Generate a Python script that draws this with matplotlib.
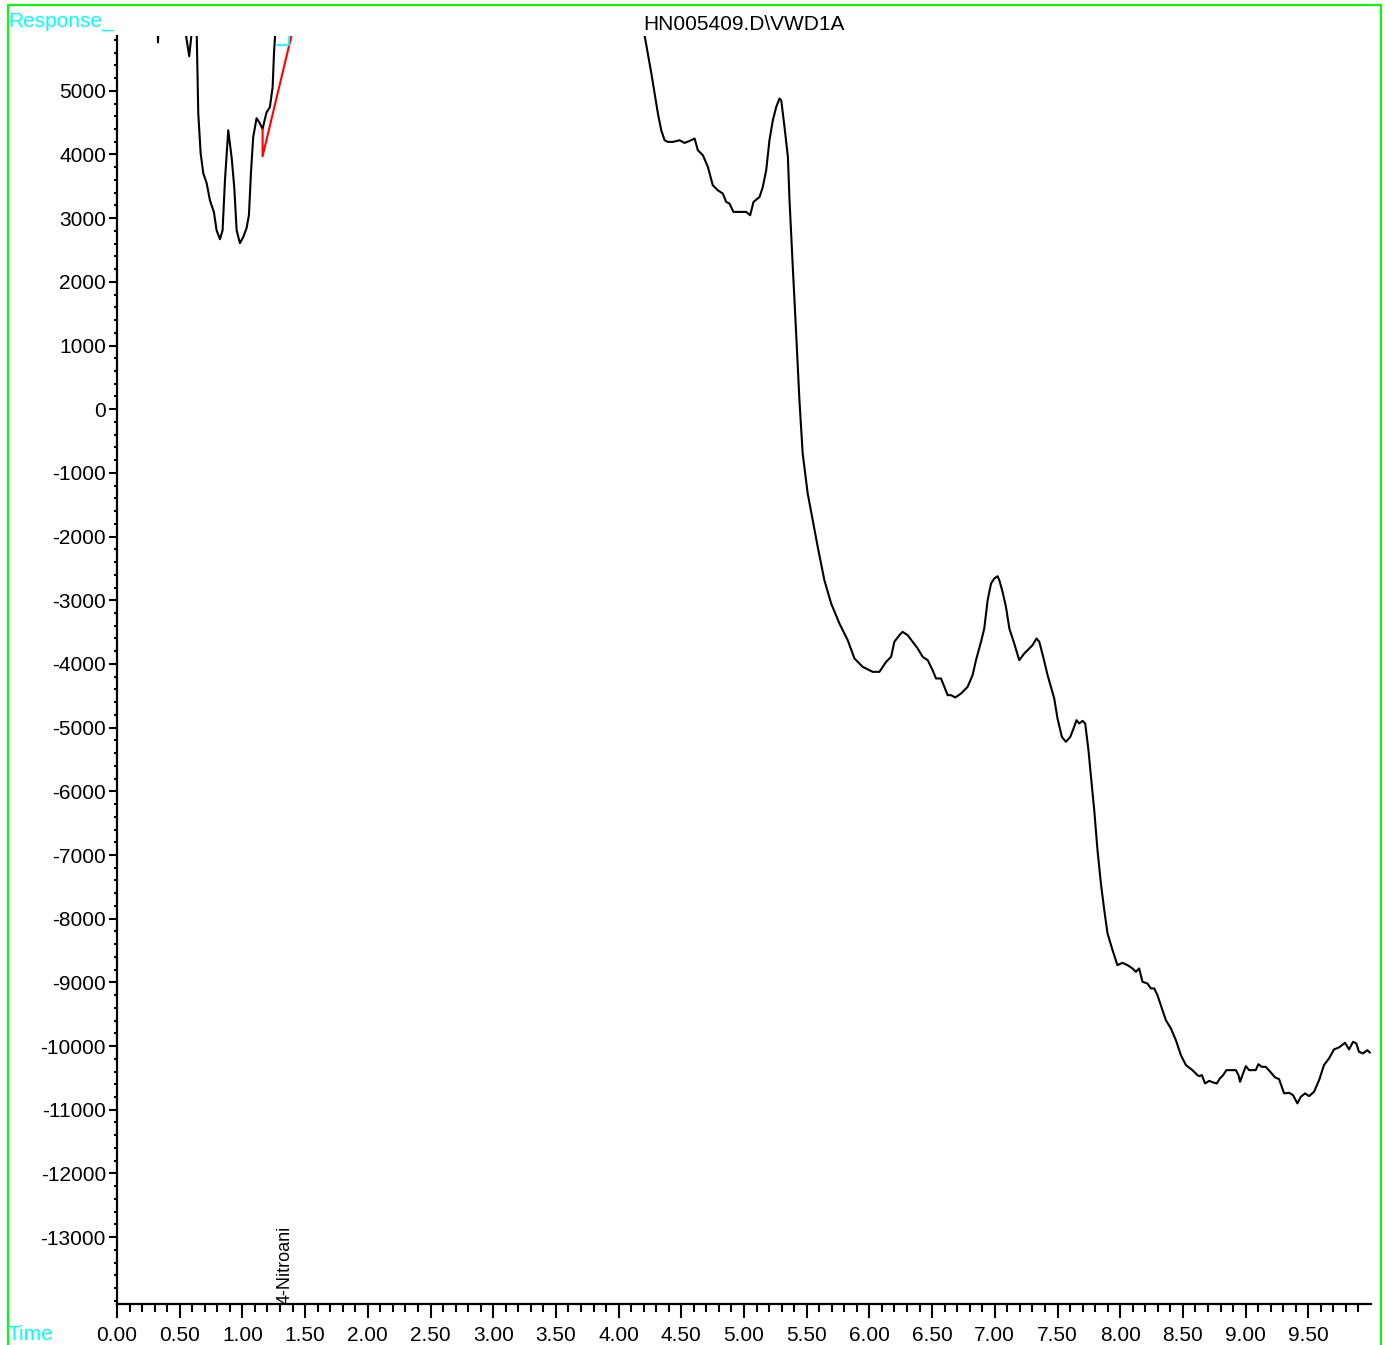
import matplotlib
matplotlib.use("Agg")
import matplotlib.pyplot as plt
from matplotlib.patches import Rectangle

plt.rcParams['font.family'] = ['Liberation Sans', 'DejaVu Sans']
plt.rcParams['axes.unicode_minus'] = False

# signal (time in min, response); points above 5860 lie off the top of the plot
time_min = [0.00, 0.31, 0.327, 0.344, 0.54, 0.576, 0.600, 0.62,
            0.648, 0.667, 0.688, 0.715, 0.741, 0.773, 0.794, 0.821, 0.842, 0.861,
            0.887, 0.914, 0.935, 0.954, 0.980, 1.006, 1.033, 1.052, 1.068, 1.086,
            1.113, 1.139, 1.161, 1.179, 1.193, 1.219, 1.241, 1.253, 1.261, 1.30,
            4.10, 4.207, 4.233, 4.261, 4.287, 4.313, 4.340, 4.367, 4.393, 4.433,
            4.486, 4.526, 4.566, 4.606, 4.632, 4.672, 4.712, 4.751, 4.791, 4.831,
            4.858, 4.884, 4.916, 4.964, 5.018, 5.049, 5.076, 5.124, 5.150, 5.177,
            5.203, 5.230, 5.257, 5.283, 5.297, 5.323, 5.350, 5.363, 5.389, 5.416,
            5.442, 5.468, 5.508, 5.548, 5.588, 5.641, 5.695, 5.761, 5.827, 5.881,
            5.947, 6.026, 6.080, 6.133, 6.173, 6.199, 6.239, 6.265, 6.305, 6.345,
            6.385, 6.425, 6.465, 6.504, 6.531, 6.571, 6.598, 6.624, 6.651, 6.685,
            6.731, 6.783, 6.823, 6.850, 6.890, 6.916, 6.943, 6.970, 6.996, 7.022,
            7.036, 7.062, 7.089, 7.116, 7.155, 7.195, 7.235, 7.275, 7.301, 7.333,
            7.355, 7.386, 7.421, 7.448, 7.474, 7.500, 7.535, 7.567, 7.602, 7.628,
            7.652, 7.673, 7.700, 7.721, 7.747, 7.767, 7.793, 7.819, 7.846, 7.873,
            7.899, 7.939, 7.978, 8.018, 8.058, 8.098, 8.125, 8.151, 8.178, 8.217,
            8.245, 8.271, 8.297, 8.324, 8.364, 8.404, 8.444, 8.484, 8.524, 8.576,
            8.616, 8.630, 8.651, 8.677, 8.709, 8.741, 8.771, 8.795, 8.821, 8.847,
            8.922, 8.943, 8.956, 8.975, 9.002, 9.028, 9.081, 9.102, 9.129, 9.161,
            9.201, 9.235, 9.267, 9.307, 9.347, 9.378, 9.413, 9.440, 9.474, 9.506,
            9.546, 9.586, 9.625, 9.665, 9.705, 9.745, 9.793, 9.825, 9.857, 9.883,
            9.904, 9.936, 9.971, 9.990]
response = [7000, 7000, 5760, 7000, 6000, 5542, 6000, 7500,
            4647, 4019, 3705, 3548, 3281, 3093, 2810, 2669, 2810, 3595,
            4380, 3956, 3485, 2810, 2606, 2700, 2842, 3046, 3705, 4270,
            4569, 4490, 4396, 4553, 4663, 4741, 5055, 5636, 5872, 7000,
            7000, 5872, 5585, 5275, 4961, 4647, 4380, 4223, 4197, 4197,
            4223, 4181, 4212, 4250, 4066, 3988, 3804, 3517, 3438, 3386,
            3255, 3229, 3098, 3098, 3098, 3046, 3255, 3333, 3490, 3752,
            4223, 4537, 4746, 4878, 4851, 4432, 3961, 3281, 2234, 1188,
            141, -696, -1324, -1743, -2162, -2685, -3051, -3365, -3627, -3914,
            -4046, -4124, -4124, -3967, -3889, -3653, -3548, -3496, -3548, -3653,
            -3757, -3889, -3941, -4098, -4228, -4228, -4360, -4490, -4490, -4526,
            -4464, -4360, -4176, -3941, -3653, -3443, -2999, -2737, -2658, -2622,
            -2685, -2868, -3104, -3443, -3679, -3941, -3836, -3757, -3705, -3600,
            -3653, -3889, -4176, -4360, -4542, -4856, -5145, -5223, -5145, -5013,
            -4883, -4935, -4894, -4935, -5354, -5773, -6296, -6924, -7447, -7866,
            -8232, -8494, -8729, -8693, -8729, -8781, -8834, -8781, -8991, -9017,
            -9095, -9095, -9200, -9357, -9593, -9723, -9907, -10142, -10299, -10378,
            -10456, -10472, -10456, -10587, -10546, -10571, -10587, -10508, -10456, -10378,
            -10378, -10456, -10561, -10456, -10315, -10378, -10378, -10284, -10326, -10326,
            -10414, -10492, -10519, -10743, -10734, -10770, -10900, -10797, -10743, -10786,
            -10718, -10535, -10299, -10194, -10053, -10021, -9949, -10053, -9933, -9959,
            -10090, -10116, -10064, -10100]

# integration baseline of the peak
base_t = [1.161, 1.161, 1.45]
base_r = [4396, 3972, 6349]

# retention time marker
marker_t = [1.273, 1.37, 1.37]
marker_r = [5715, 5715, 5856]
peak_name = "4-Nitroani"
peak_rt = 1.339

xmajor = [0.5 * i for i in range(20)]
xminor = [0.1 * i for i in range(100)]
ymajor = list(range(-13000, 6000, 1000))
yminor = list(range(-14000, 6000, 200))

fig = plt.figure(figsize=(13.85, 13.45), dpi=100)
ax = fig.add_axes([117 / 1385, 1 - 1304 / 1345, (1371 - 117) / 1385, (1304 - 36) / 1345])

ax.plot(time_min, response, color='black', lw=1.5)
ax.plot(base_t, base_r, color='red', lw=1.5)
ax.plot(marker_t, marker_r, color='cyan', lw=1.2)
ax.text(peak_rt, -14050, peak_name, rotation=90, ha='center', va='bottom', fontsize=13)

ax.set_xlim(0, 10.0)
ax.set_ylim(-14050, 5860)

ax.set_xticks(xmajor)
ax.set_xticklabels(["%.2f" % v for v in xmajor])
ax.set_xticks(xminor, minor=True)
ax.set_yticks(ymajor)
ax.set_yticklabels([str(v) for v in ymajor])
ax.set_yticks(yminor, minor=True)

for s in ['top', 'right']:
    ax.spines[s].set_visible(False)
for s in ['left', 'bottom']:
    ax.spines[s].set_linewidth(1.6)

ax.tick_params(axis='x', which='major', length=10, width=1.5, labelsize=15, pad=6)
ax.tick_params(axis='x', which='minor', length=5.5, width=1.5)
ax.tick_params(axis='y', which='major', length=6, width=1.5, labelsize=15, pad=2)
ax.tick_params(axis='y', which='minor', length=2.5, width=1.5)

fig.text(8 / 1385, 1 - 27 / 1345, "Response_", color='cyan', fontsize=15)
fig.text(8 / 1385, 1 - 1340 / 1345, "Time", color='cyan', fontsize=15)
fig.text(744 / 1385, 1 - 30 / 1345, "HN005409.D\\VWD1A", ha='center', fontsize=15)

fig.patches.append(Rectangle((7.5 / 1385, -0.01), (1381 - 7.5) / 1385, 1.01 - 4.5 / 1345,
                             transform=fig.transFigure, fill=False,
                             edgecolor='#00ff00', lw=1.5))

plt.savefig("out.png")
plt.close()
